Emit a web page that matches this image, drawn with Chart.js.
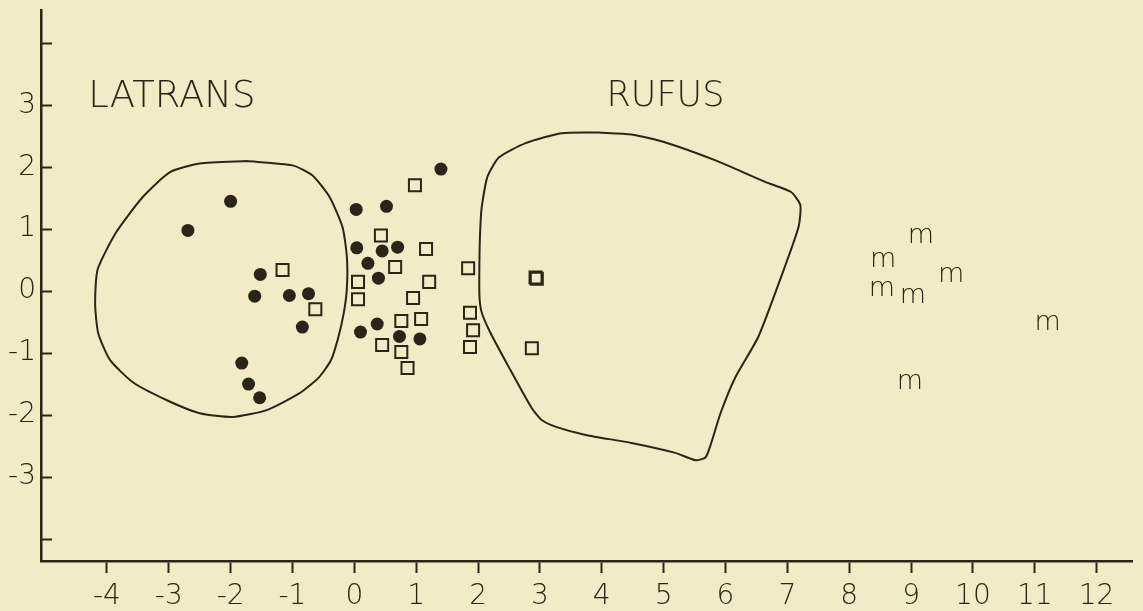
<!DOCTYPE html>
<html>
<head>
<meta charset="utf-8">
<script src="https://cdn.jsdelivr.net/npm/chart.js@4.4.1/dist/chart.umd.min.js"></script>
<style>
  html, body { margin: 0; padding: 0; background: #f2ebc6; }
  #wrap { width: 1143px; height: 611px; }
</style>
</head>
<body>
<div id="wrap"><canvas id="grafico"></canvas></div>
<script>
// ticks
const xTicks = [-4, -3, -2, -1, 0, 1, 2, 3, 4, 5, 6, 7, 8, 9, 10, 11, 12];
const yTicks = [-4, -3, -2, -1, 0, 1, 2, 3, 4];
const yTickLabels = ['', '-3', '-2', '-1', '0', '1', '2', '3', ''];

// filled circles
const dotsX = [-2.69, -2.0, -1.52, -1.61, -1.05, -0.74, -0.84, -1.82, -1.71, -1.53,
               0.03, 0.52, 1.40, 0.04, 0.45, 0.70, 0.22, 0.39, 0.10, 0.37, 0.73, 1.06];
const dotsY = [0.98, 1.45, 0.27, -0.08, -0.07, -0.04, -0.58, -1.16, -1.50, -1.72,
               1.32, 1.37, 1.97, 0.70, 0.65, 0.71, 0.45, 0.21, -0.66, -0.53, -0.73, -0.77];

// open squares
const squaresX = [0.98, 0.43, 1.16, 0.66, 0.06, 0.06, 1.21, 0.95, -1.16, -0.63,
                  0.76, 1.08, 0.45, 0.76, 0.86, 1.84, 1.87, 1.92, 1.87, 2.93, 2.95, 2.87];
const squaresY = [1.71, 0.90, 0.68, 0.39, 0.15, -0.13, 0.15, -0.11, 0.34, -0.29,
                  -0.48, -0.45, -0.87, -0.98, -1.24, 0.37, -0.35, -0.63, -0.90, 0.22, 0.20, -0.92];

// "m" specimens
const mX = [9.16, 8.55, 9.65, 8.53, 9.03, 11.21, 8.98];
const mY = [0.85, 0.45, 0.21, -0.02, -0.13, -0.56, -1.52];

// outlines (start and end at the top, where the curve is flat)
const latransHullX = [-1.74, -1.00, -0.68, -0.40, -0.19, -0.12, -0.12, -0.17, -0.26, -0.38, -0.58, -0.89, -1.42,
                      -1.97, -2.50, -3.03, -3.58, -3.95, -4.14, -4.19, -4.15, -3.85, -3.42, -2.98, -2.50, -1.74];
const latransHullY = [2.10, 2.03, 1.87, 1.52, 1.03, 0.55, 0.05, -0.35, -0.75, -1.12, -1.40, -1.65, -1.92,
                      -2.03, -1.97, -1.76, -1.47, -1.11, -0.68, -0.20, 0.35, 0.95, 1.52, 1.92, 2.06, 2.10];
const rufusHullX = [3.95, 4.48, 5.03, 5.84, 6.65, 7.06, 7.21, 7.18, 6.90, 6.53, 6.16, 5.92, 5.77, 5.68, 5.52,
                    5.19, 4.48, 3.74, 3.26, 3.03, 2.87, 2.50, 2.18, 2.05, 2.02, 2.05, 2.15, 2.34, 2.77, 3.35, 3.95];
const rufusHullY = [2.56, 2.53, 2.40, 2.11, 1.76, 1.60, 1.39, 1.03, 0.23, -0.74, -1.39, -1.97, -2.45, -2.68, -2.73,
                    -2.61, -2.45, -2.32, -2.19, -2.08, -1.89, -1.23, -0.63, -0.31, 0.06, 1.26, 1.84, 2.16, 2.39, 2.55, 2.56];

// group names
const groupLabels = ['LATRANS', 'RUFUS'];
const groupLabelX = [-2.95, 5.03];
const groupLabelY = [3.13, 3.13];

const tinta = '#2a2419';
const fundo = '#f2ebc6';
const fonte = "'DejaVu Sans', sans-serif";

function pares(xs, ys) {
    return xs.map((x, i) => ({ x: x, y: ys[i] }));
}

const pluginFundo = {
    id: 'fundo',
    beforeDraw(chart) {
        const ctx = chart.ctx;
        ctx.save();
        ctx.fillStyle = fundo;
        ctx.fillRect(0, 0, chart.width, chart.height);
        ctx.restore();
    }
};

const pluginTextos = {
    id: 'textos',
    afterDatasetsDraw(chart) {
        const ctx = chart.ctx;
        const sx = chart.scales.x, sy = chart.scales.y;
        const area = chart.chartArea;
        ctx.save();
        ctx.fillStyle = tinta;
        ctx.strokeStyle = tinta;

        // y ticks point inward
        ctx.lineWidth = 2;
        yTicks.forEach(v => {
            const py = Math.round(sy.getPixelForValue(v)) + 0.5;
            ctx.beginPath();
            ctx.moveTo(area.left, py);
            ctx.lineTo(area.left + 11, py);
            ctx.stroke();
        });

        // m markers
        ctx.font = '200 27px ' + fonte;
        ctx.textAlign = 'center';
        ctx.textBaseline = 'middle';
        chart.getDatasetMeta(4).data.forEach(pt => {
            ctx.fillText('m', pt.x, pt.y - 3);
        });

        // group labels
        groupLabels.forEach((t, i) => {
            ctx.font = '200 ' + (i === 0 ? 37 : 35) + 'px ' + fonte;
            ctx.fillText(t, sx.getPixelForValue(groupLabelX[i]), sy.getPixelForValue(groupLabelY[i]));
        });
        ctx.restore();
    }
};

new Chart(document.getElementById('grafico'), {
    type: 'scatter',
    data: {
        datasets: [
            {
                label: 'latrans',
                data: pares(latransHullX, latransHullY),
                showLine: true,
                tension: 0.2,
                borderColor: tinta,
                borderWidth: 2,
                pointRadius: 0,
                fill: false
            },
            {
                label: 'rufus',
                data: pares(rufusHullX, rufusHullY),
                showLine: true,
                tension: 0.2,
                borderColor: tinta,
                borderWidth: 2,
                pointRadius: 0,
                fill: false
            },
            {
                label: 'dots',
                data: pares(dotsX, dotsY),
                pointStyle: 'circle',
                pointRadius: 6.5,
                backgroundColor: tinta,
                borderColor: tinta,
                borderWidth: 0
            },
            {
                label: 'squares',
                data: pares(squaresX, squaresY),
                pointStyle: 'rect',
                pointRadius: 8.5,
                backgroundColor: 'transparent',
                borderColor: tinta,
                borderWidth: 2
            },
            {
                label: 'm',
                data: pares(mX, mY),
                pointRadius: 0
            }
        ]
    },
    options: {
        responsive: true,
        maintainAspectRatio: false,
        animation: false,
        layout: { padding: { left: 0, right: 6, top: 0, bottom: 0 } },
        plugins: {
            legend: { display: false },
            tooltip: { enabled: false }
        },
        scales: {
            x: {
                type: 'linear',
                min: -5.065,
                max: 12.58,
                afterFit(s) { s.height = 50; s.paddingLeft = 0; s.paddingRight = 0; },
                afterBuildTicks(s) { s.ticks = xTicks.map(v => ({ value: v })); },
                border: { display: true, color: tinta, width: 2.5 },
                grid: { drawOnChartArea: false, drawTicks: true, tickLength: 12, tickColor: tinta, tickWidth: 2 },
                ticks: {
                    color: tinta,
                    padding: 7,
                    font: { family: fonte, size: 28, weight: '200' },
                    maxRotation: 0,
                    autoSkip: false,
                    callback: v => String(v)
                }
            },
            y: {
                type: 'linear',
                min: -4.355,
                max: 4.53,
                afterFit(s) { s.width = 41; s.paddingTop = 0; s.paddingBottom = 0; },
                afterBuildTicks(s) { s.ticks = yTicks.map(v => ({ value: v })); },
                border: { display: true, color: tinta, width: 2.5 },
                grid: { drawOnChartArea: false, drawTicks: false },
                ticks: {
                    color: tinta,
                    padding: 5,
                    font: { family: fonte, size: 28, weight: '200' },
                    autoSkip: false,
                    callback: (v) => yTickLabels[yTicks.indexOf(v)]
                }
            }
        }
    },
    plugins: [pluginFundo, pluginTextos]
});
</script>
</body>
</html>
